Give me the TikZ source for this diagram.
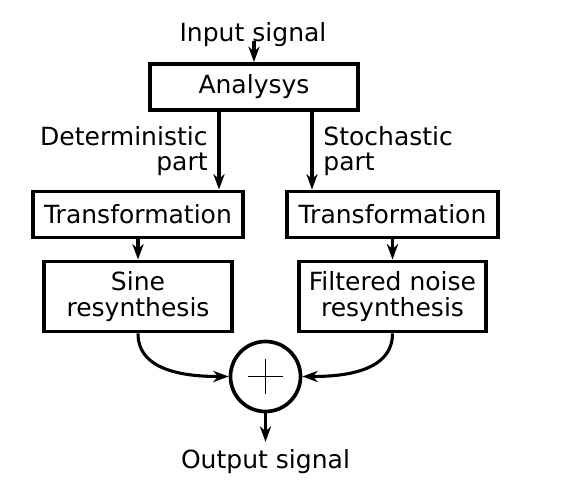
\documentclass[tikz,border=0pt]{standalone}
\usepackage{fontspec}
\setmainfont{DejaVu Sans}
\usetikzlibrary{arrows.meta}
\usetikzlibrary{positioning}

\begin{document}
\begin{tikzpicture}[x=0.025cm,y=-0.025cm,>={Stealth[length=11pt,width=8pt,inset=3.5pt]},line width=2.2pt,
    block/.style={rectangle,draw,line width=2.8pt,inner sep=0pt,align=center,
      font=\fontsize{17.8}{18}\selectfont},
    lbl/.style={inner sep=0pt,font=\fontsize{17.8}{18}\selectfont},
    sum node/.style={circle,draw,line width=2.6pt,minimum size=1.75cm,inner sep=0pt}]

  \useasboundingbox (0,0) rectangle (561,488);

  \node[lbl,anchor=base] (in) at (253,41) {Input signal};
  \node[block,minimum width=208*0.025cm,minimum height=46*0.025cm] (ana) at (254,87) {Analysys};

  \node[block,minimum width=210*0.025cm,minimum height=46*0.025cm] (dtr) at (138,214.5) {Transformation};
  \node[block,minimum width=211*0.025cm,minimum height=46*0.025cm] (str) at (392.5,214.5) {Transformation};

  \node[block,minimum width=188*0.025cm,minimum height=70*0.025cm] (sin) at (138,296.5) {Sine\\resynthesis};
  \node[block,minimum width=187*0.025cm,minimum height=70*0.025cm] (noi) at (392.5,296.5) {Filtered noise\\resynthesis};

  \node[sum node] (sum) at (265.5,376.5) {};
  \draw[line width=1.3pt] ([xshift=-17.5*0.025cm]sum.center) -- ([xshift=17.5*0.025cm]sum.center)
    ([yshift=-17.5*0.025cm]sum.center) -- ([yshift=17.5*0.025cm]sum.center);

  \node[lbl,anchor=base,inner sep=4pt] (out) at (265.5,468) {Output signal};

  % connectors
  \draw[->] (in.base -| ana.north) -- (ana.north);
  \path[->,every node/.style={lbl,inner sep=7pt}]
    (ana.south -| 219,0) edge node[left,align=right] {Deterministic\\part} (dtr.north -| 219,0)
    (ana.south -| 312,0) edge node[right,align=left] {Stochastic\\part} (str.north -| 312,0);
  \draw[->] (dtr) -- (sin);
  \draw[->] (str) -- (noi);
  \draw[->] (sin.south) to[out=-90,in=180] (sum.west);
  \draw[->] (noi.south) to[out=-90,in=0] (sum.east);
  \draw[->] (sum.south) -- (out.north);
\end{tikzpicture}
\end{document}
